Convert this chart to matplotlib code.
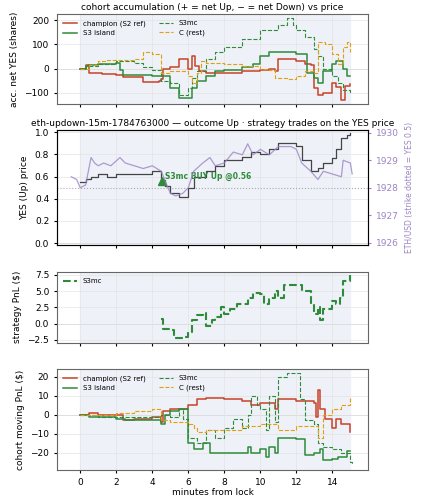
import matplotlib
matplotlib.use("Agg")
import matplotlib.pyplot as plt
import numpy as np

# ---- data (t in minutes, value) ----
acc_champ_t = [0,0.3,0.5,1.2,2,2.4,3,3.5,3.5,4,4.4,4.5,4.6,5,5.5,6,6.2,6.4,6.6,7,8,9,10,10.5,10.8,11,12,12.5,12.8,13.0,13.2,13.5,14,14.2,14.5,14.7,15]
acc_champ_v = [0,15,-20,-22,-25,-35,-35,-38,-55,-55,-50,-45,0,5,40,0,50,10,-10,-20,-20,-10,-5,0,-10,40,30,20,15,-80,-110,-100,-60,-75,-130,-70,-65]
acc_isl_t = [0,0.3,0.5,1,2,2.2,2.4,3,4,4.5,5,5.5,6,6.2,6.5,7,7.5,8,9,9.6,10,10.5,11,12,12.6,13,13.2,13.5,14,14.2,14.6,14.8,15]
acc_isl_v = [0,10,15,20,25,-5,-25,-25,-30,-30,-80,-120,-120,-80,-50,-30,-10,-5,5,20,50,70,70,60,-20,-40,-60,-10,20,30,0,-30,-30]
acc_mc_t = [0,0.3,1,2,3,3.5,4,4.5,5,5.5,6,6.2,6.5,7,7.5,8,9,10,11,11.5,11.8,12,12.5,13,13.2,13.5,14,14.3,14.6,15]
acc_mc_v = [0,10,20,30,25,5,-5,-50,-60,-110,-80,-40,-10,40,70,90,120,160,180,210,180,160,130,80,50,0,-30,-60,-90,-105]
acc_c_t = [0,0.5,1,1.5,3,3.5,4,4.5,5,6,6.2,6.5,6.7,7,8,9,10,10.5,10.8,11.5,12,12.5,13,13.2,13.6,14,14.3,14.6,14.8,15]
acc_c_v = [0,15,30,35,40,70,60,-20,-10,-30,-60,-20,30,25,20,10,0,-5,-40,-45,-30,-10,-20,110,100,60,20,90,110,70]

yes_t = [0,0.3,0.6,1,1.5,2,3,4,4.5,4.7,5,5.5,6,6.3,7,7.5,8,9,9.5,10,10.5,11,12,12.3,12.8,13.2,13.5,14,14.2,14.5,14.8,15]
yes_v = [0.55,0.58,0.6,0.62,0.6,0.62,0.62,0.65,0.57,0.52,0.45,0.42,0.5,0.6,0.65,0.7,0.75,0.78,0.82,0.8,0.85,0.9,0.88,0.75,0.65,0.68,0.72,0.77,0.85,0.95,0.98,0.99]
eth_t = [-0.5,-0.2,0,0.3,0.6,0.8,1,1.3,1.7,2.2,2.5,3,3.5,4,4.5,5,5.3,5.7,6,6.3,6.8,7.2,7.5,8,8.5,9,9.3,9.6,10,10.5,11,11.7,12,12.3,12.8,13.2,13.5,14,14.5,14.6,15,15.1]
eth_v = [1928.4,1928.3,1928.0,1928.1,1929.1,1928.9,1928.8,1928.9,1928.8,1929.1,1928.9,1928.8,1928.7,1928.8,1928.6,1927.8,1927.7,1927.8,1928.0,1928.6,1928.9,1929.1,1928.8,1928.9,1929.3,1929.2,1929.6,1929.2,1929.4,1929.2,1929.5,1929.5,1929.4,1928.9,1928.6,1928.3,1928.6,1928.5,1928.4,1929.0,1928.9,1928.5]
buy_t, buy_p = 4.55, 0.56

pnl_t = [4.5,4.6,5,5.2,5.7,6,6.2,6.5,6.8,7,7.3,7.5,7.8,8,8.3,8.7,9,9.3,9.6,10,10.2,10.5,10.8,11,11.3,12,12.3,12.8,13,13.2,13.3,13.5,14,14.2,14.4,14.6,15]
pnl_v = [0.7,-0.8,-1.0,-2.2,-2.0,-1.2,0.5,1.3,1.7,-0.3,0.5,1.0,2.5,1.5,2.3,3.0,3.0,4.0,4.7,4.5,3.0,4.0,5.0,4.0,6.0,6.0,5.0,3.0,1.5,2.5,0.5,2.3,3.5,3.0,4.0,6.5,7.5]

mv_champ_t = [0,0.5,1,2,2.4,3,4,4.5,4.6,5,6,6.5,7,8,9,9.5,10,10.8,11,12,13,13.1,13.2,13.3,13.6,14,14.2,14.5,15]
mv_champ_v = [0,1,0,0,-3,-2,-1,-4,2,3,5,8,9,8,7,5,6,3,8,7,6,-1,13,3,-2,-7,-2,-5,-9]
mv_isl_t = [0,0.5,2,2.5,4,4.5,4.7,5,5.5,6,6.3,6.8,7.2,9,9.3,9.5,10,10.3,10.5,10.8,11,12,12.5,13,13.3,13.5,14,14.3,14.8,15]
mv_isl_v = [0,-1,-2,-3,-3,-5,0,2,3,-15,-18,-15,-20,-20,-17,-20,-18,-22,-17,-20,-12,-13,-21,-20,-18,-24,-23,-22,-19,-19]
mv_mc_t = [0,1,2,4,4.5,5,5.5,5.7,6,6.5,7,7.5,8,8.5,9,9.3,9.5,9.8,10,10.3,10.5,10.8,11,11.5,12,12.2,12.5,13,13.2,13.5,14,14.5,15,15.1]
mv_mc_v = [0,-1,-1,-1,0,-1,3,-2,-12,-15,-8,-12,-7,-2,-7,0,10,5,3,-8,10,-4,20,22,22,8,-3,-5,-15,-17,-18,-20,-25,-26]
mv_c_t = [0,1,2,3,4,4.5,5,6,6.3,6.5,7,8,9,10,11,12,12.5,13,13.2,13.5,14,14.5,15]
mv_c_v = [0,0,1,2,3,-3,-4,-5,-7,-9,-8,-8,-6,-5,-8,-6,-6,-6,-12,0,3,5,9]

RED, GRN, ORG, PUR = "#c8432a", "#2e8b3a", "#e0a010", "#9b84c4"
BG = "#eef1f8"

fig = plt.figure(figsize=(4.21, 5.0), dpi=100)
gs = fig.add_gridspec(4, 1, height_ratios=[95, 122, 75, 107], hspace=0.28,
                      left=0.135, right=0.875, top=0.972, bottom=0.06)
axs = [fig.add_subplot(gs[i]) for i in range(4)]
for a in axs[1:]:
    a.sharex(axs[0])

def style(a):
    a.axvspan(0, 15, color=BG, zorder=0)
    a.axhline(0, color="#cccccc", lw=0.6, zorder=1)
    a.grid(True, color="#e4e4e4", lw=0.5)
    a.tick_params(labelsize=6.5, length=2)
    for s in a.spines.values():
        s.set_color("#666666")
    a.set_xlim(-1.3, 16.0)

fs = 6.5
# panel 1
a = axs[0]; style(a)
a.step(acc_champ_t, acc_champ_v, where="post", color=RED, lw=1.1, label="champion (S2 ref)")
a.step(acc_isl_t, acc_isl_v, where="post", color=GRN, lw=1.1, label="S3 island")
a.step(acc_mc_t, acc_mc_v, where="post", color=GRN, lw=0.8, ls="--", label="S3mc")
a.step(acc_c_t, acc_c_v, where="post", color=ORG, lw=0.8, ls="--", label="C (rest)")
a.set_ylim(-145, 225)
a.set_yticks([-100, 0, 100, 200])
a.set_ylabel("acc. net YES (shares)", fontsize=fs)
a.set_title("cohort accumulation (+ = net Up, − = net Down) vs price", fontsize=fs, pad=3)
a.legend(loc="upper left", ncol=2, fontsize=5, frameon=False)
a.tick_params(labelbottom=False)

# panel 2
a = axs[1]; style(a)
a.axhline(0.5, color="#aaaaaa", lw=0.8, ls=":")
a.step(yes_t, yes_v, where="post", color="#444444", lw=0.9, zorder=3)
a.plot(buy_t, buy_p, marker="^", color=GRN, ms=6, zorder=4)
a.text(buy_t + 0.15, buy_p, "S3mc BUY Up @0.56", color=GRN, fontsize=5.5, fontweight="bold", va="bottom")
a.set_ylim(-0.02, 1.02)
a.set_yticks([0, 0.2, 0.4, 0.6, 0.8, 1.0])
a.set_ylabel("YES (Up) price", fontsize=fs)
a.set_title("eth-updown-15m-1784763000 — outcome Up · strategy trades on the YES price", fontsize=fs, pad=3)
a.tick_params(labelbottom=False)
a2 = a.twinx()
a2.plot(eth_t, eth_v, color=PUR, lw=0.9, alpha=0.8)
a2.set_ylim(1925.9, 1930.1)
a2.set_yticks([1926, 1927, 1928, 1929, 1930])
a2.tick_params(labelsize=6.5, colors=PUR, length=2)
a2.set_ylabel("ETH/USD (strike dotted = YES 0.5)", fontsize=5.5, color=PUR)

# panel 3
a = axs[2]; style(a)
a.step(pnl_t, pnl_v, where="post", color=GRN, lw=1.5, ls="--", label="S3mc")
a.set_ylim(-2.9, 8.0)
a.set_yticks([-2.5, 0, 2.5, 5.0, 7.5])
a.set_ylabel("strategy PnL ($)", fontsize=fs)
a.legend(loc="upper left", fontsize=5, frameon=False)
a.tick_params(labelbottom=False)

# panel 4
a = axs[3]; style(a)
a.step(mv_champ_t, mv_champ_v, where="post", color=RED, lw=1.1, label="champion (S2 ref)")
a.step(mv_isl_t, mv_isl_v, where="post", color=GRN, lw=1.1, label="S3 island")
a.step(mv_mc_t, mv_mc_v, where="post", color=GRN, lw=0.8, ls="--", label="S3mc")
a.step(mv_c_t, mv_c_v, where="post", color=ORG, lw=0.8, ls="--", label="C (rest)")
a.set_ylim(-29, 24)
a.set_yticks([-20, -10, 0, 10, 20])
a.set_xticks([0, 2, 4, 6, 8, 10, 12, 14])
a.set_ylabel("cohort moving PnL ($)", fontsize=fs)
a.set_xlabel("minutes from lock", fontsize=fs, labelpad=1)
a.legend(loc="upper left", ncol=2, fontsize=5, frameon=False)

fig.savefig("out.png", dpi=100)
